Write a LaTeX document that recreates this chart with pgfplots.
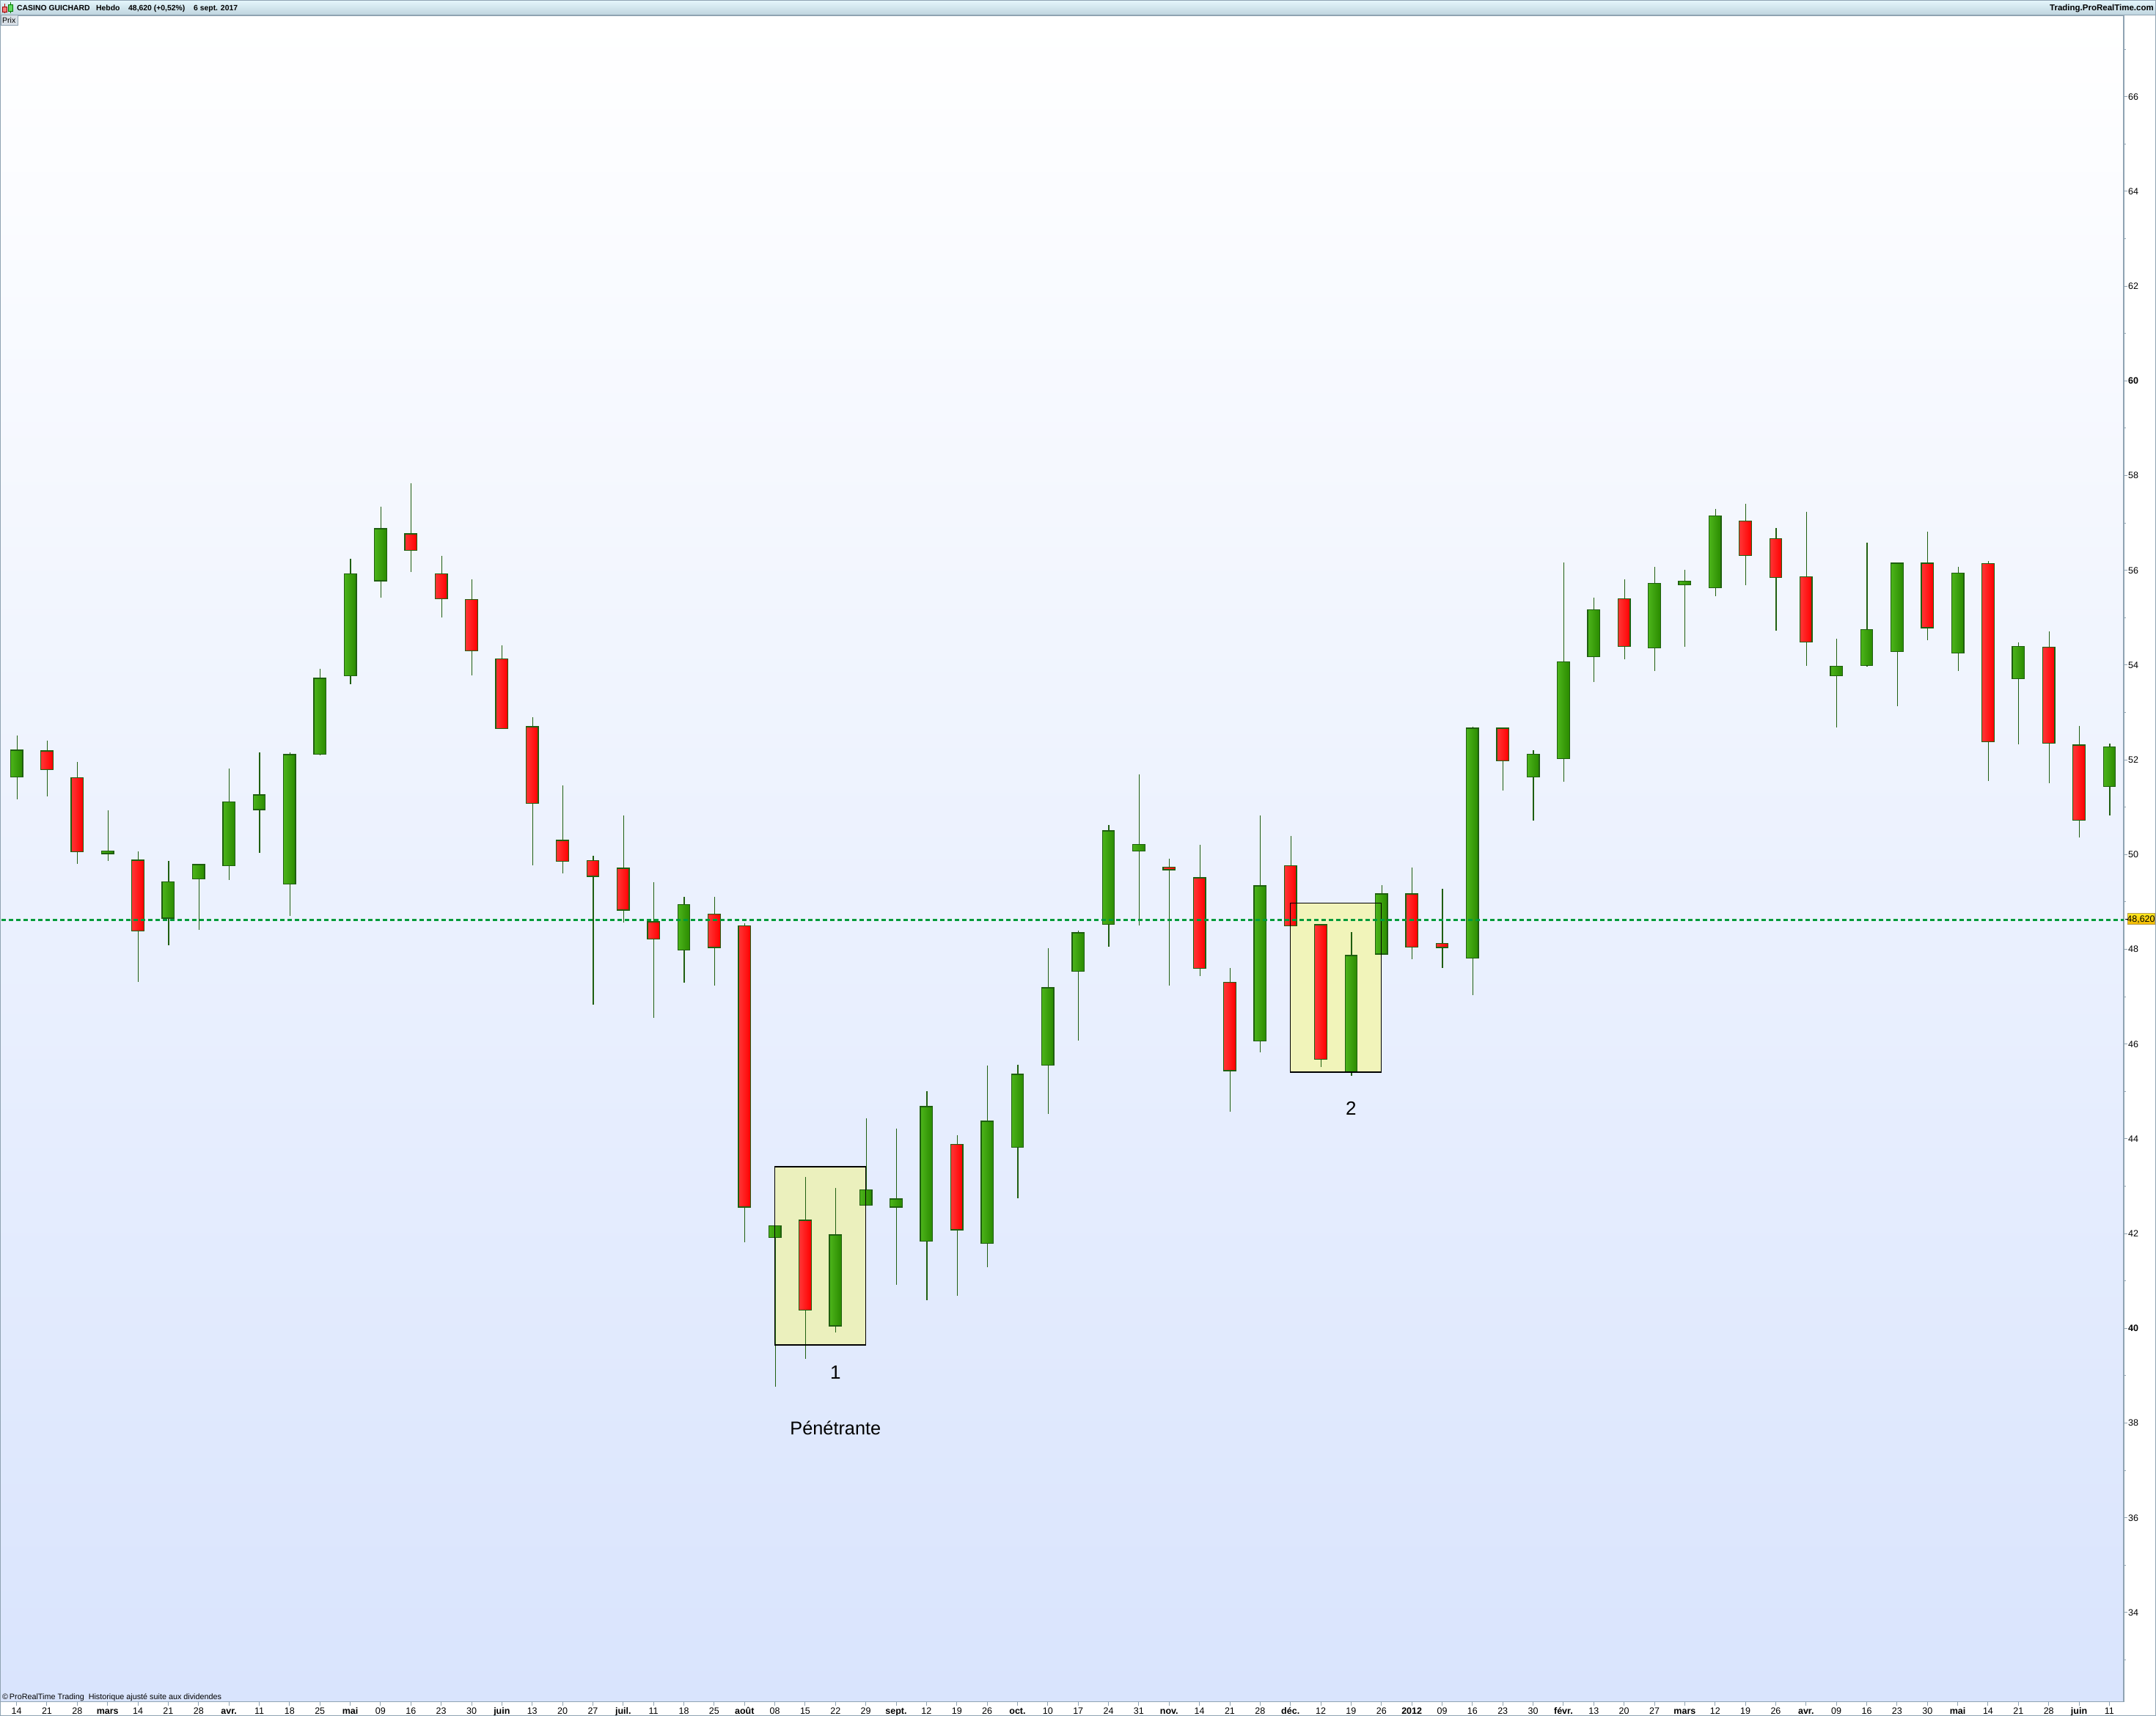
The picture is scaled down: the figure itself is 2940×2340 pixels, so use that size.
\documentclass[border=0pt]{standalone}
\usepackage{fontspec}
\setmainfont{Liberation Sans}
\usepackage{pgfplots}
\pgfplotsset{compat=1.18}
\definecolor{edgeG}{HTML}{1F5F10}
\definecolor{gL}{HTML}{4CB41A}
\definecolor{gR}{HTML}{2A8A00}
\definecolor{rL}{HTML}{FF3636}
\definecolor{rR}{HTML}{FF0000}
\definecolor{frameC}{HTML}{8FA3B2}
\definecolor{dashC}{HTML}{009B3A}
\definecolor{bgB}{HTML}{D9E4FD}
\definecolor{rectA}{HTML}{EBF0BD}
\definecolor{rectB}{HTML}{F1F4BA}
\definecolor{hdT}{HTML}{E6F7FD}
\definecolor{hdB}{HTML}{BFD5DF}
\definecolor{icoR}{HTML}{F47C7C}
\definecolor{icoG}{HTML}{5FDB5F}
\definecolor{prixF}{HTML}{D8DFE6}
\definecolor{tagT}{HTML}{FFE81E}
\definecolor{tagB}{HTML}{F0B400}
\definecolor{tagE}{HTML}{B8A050}
\tikzset{
 bodyg/.style={left color=gL,right color=gR,draw=edgeG,line width=1.3pt},
 bodyr/.style={left color=rL,right color=rR,draw=edgeG,line width=1.3pt},
}
\newcommand{\candle}[6]{%
 \pgfmathsetmacro{\xl}{#1-0.2}\pgfmathsetmacro{\xr}{#1+0.2}\pgfmathsetmacro{\xw}{#1+0.012}%
 \addplot[edgeG,line width=1.2pt,mark=none,forget plot] coordinates {(\xw,#3) (\xw,#6)};
 \addplot[body#2,mark=none,forget plot] coordinates {(\xl,#5) (\xr,#5) (\xr,#4) (\xl,#4)} -- cycle;
}
\begin{document}
\begin{tikzpicture}[x=1pt,y=1pt]
\useasboundingbox (0,0) rectangle (2940,2340);
\begin{axis}[
 at={(2,30)},anchor=south west,
 scale only axis,width=2895pt,height=2299pt,
 xmin=0.473,xmax=70.47,ymin=32.117,ymax=67.706,
 axis background/.style={top color=white,bottom color=bgB},
 axis line style={frameC,line width=1.3pt},
 tick style={frameC,line width=1pt},
 tick align=outside,
 major tick length=5pt,minor tick length=3pt,
 xtick pos=bottom,ytick pos=right,
 xtick={1,...,70},
 xticklabels={14,21,28,\textbf{mars},14,21,28,\textbf{avr.},11,18,25,\textbf{mai},09,16,23,30,\textbf{juin},13,20,27,\textbf{juil.},11,18,25,\textbf{août},08,15,22,29,\textbf{sept.},12,19,26,\textbf{oct.},10,17,24,31,\textbf{nov.},14,21,28,\textbf{déc.},12,19,26,\textbf{2012},09,16,23,30,\textbf{févr.},13,20,27,\textbf{mars},12,19,26,\textbf{avr.},09,16,23,30,\textbf{mai},14,21,28,\textbf{juin},11},
 ytick={34,36,...,66},
 yticklabels={34,36,38,\textbf{40},42,44,46,48,50,52,54,56,58,\textbf{60},62,64,66},
 minor ytick={33,35,...,67},
 xticklabel style={anchor=base,inner sep=0pt,yshift=-12pt,font=\fontsize{12.5}{12.5}\selectfont},
 yticklabel style={anchor=west,inner sep=0pt,xshift=1pt,font=\fontsize{12.5}{12.5}\selectfont},
 clip=true,
]
% rectangle fills
\addplot[fill=rectA,draw=none,mark=none,forget plot] coordinates {(26,39.65) (29,39.65) (29,43.41) (26,43.41)} -- cycle;
\addplot[fill=rectB,draw=none,mark=none,forget plot] coordinates {(43,45.41) (46,45.41) (46,48.98) (43,48.98)} -- cycle;
% index, colour, high, body top, body bottom, low
\candle{1}{g}{52.52}{52.205}{51.64}{51.17}
\candle{2}{r}{52.41}{52.19}{51.79}{51.23}
\candle{3}{r}{51.95}{51.62}{50.06}{49.80}
\candle{4}{g}{50.94}{50.07}{50.02}{49.87}
\candle{5}{r}{50.07}{49.88}{48.39}{47.31}
\candle{6}{g}{49.86}{49.43}{48.66}{48.09}
\candle{7}{g}{49.79}{49.79}{49.49}{48.41}
\candle{8}{g}{51.81}{51.11}{49.77}{49.47}
\candle{9}{g}{52.16}{51.26}{50.95}{50.04}
\candle{10}{g}{52.15}{52.11}{49.38}{48.71}
\candle{11}{g}{53.92}{53.72}{52.12}{52.09}
\candle{12}{g}{56.25}{55.93}{53.78}{53.60}
\candle{13}{g}{57.35}{56.88}{55.78}{55.43}
\candle{14}{r}{57.84}{56.77}{56.42}{55.96}
\candle{15}{r}{56.30}{55.93}{55.40}{55.00}
\candle{16}{r}{55.81}{55.38}{54.30}{53.78}
\candle{17}{r}{54.42}{54.13}{52.66}{52.66}
\candle{18}{r}{52.90}{52.70}{51.08}{49.78}
\candle{19}{r}{51.46}{50.30}{49.86}{49.61}
\candle{20}{r}{49.98}{49.87}{49.54}{46.84}
\candle{21}{r}{50.83}{49.71}{48.83}{48.56}
\candle{22}{r}{49.42}{48.58}{48.22}{46.56}
\candle{23}{g}{49.11}{48.95}{47.99}{47.30}
\candle{24}{r}{49.11}{48.74}{48.04}{47.23}
\candle{25}{r}{48.55}{48.50}{42.56}{41.81}
\candle{26}{g}{42.16}{42.16}{41.92}{38.77}
\candle{27}{r}{43.20}{42.28}{40.39}{39.35}
\candle{28}{g}{42.97}{41.97}{40.05}{39.92}
\candle{29}{g}{44.44}{42.92}{42.60}{42.60}
\candle{30}{g}{44.22}{42.73}{42.56}{40.92}
\candle{31}{g}{45.01}{44.68}{41.84}{40.60}
\candle{32}{r}{44.08}{43.88}{42.08}{40.68}
\candle{33}{g}{45.54}{44.37}{41.79}{41.29}
\candle{34}{g}{45.57}{45.36}{43.82}{42.74}
\candle{35}{g}{48.03}{47.19}{45.56}{44.52}
\candle{36}{g}{48.39}{48.35}{47.54}{46.08}
\candle{37}{g}{50.62}{50.50}{48.53}{48.06}
\candle{38}{g}{51.70}{50.22}{50.08}{48.50}
\candle{39}{r}{49.92}{49.73}{49.68}{47.24}
\candle{40}{r}{50.20}{49.51}{47.60}{47.43}
\candle{41}{r}{47.60}{47.30}{45.44}{44.57}
\candle{42}{g}{50.83}{49.34}{46.07}{45.83}
\candle{43}{r}{50.40}{49.77}{48.50}{48.50}
\candle{44}{r}{48.52}{48.52}{45.68}{45.51}
\candle{45}{g}{48.36}{47.87}{45.41}{45.33}
\candle{46}{g}{49.35}{49.17}{47.90}{47.90}
\candle{47}{r}{49.73}{49.17}{48.05}{47.79}
\candle{48}{r}{49.28}{48.13}{48.04}{47.60}
\candle{49}{g}{52.70}{52.67}{47.82}{47.04}
\candle{50}{r}{52.67}{52.67}{51.98}{51.35}
\candle{51}{g}{52.20}{52.12}{51.64}{50.72}
\candle{52}{g}{56.16}{54.07}{52.03}{51.54}
\candle{53}{g}{55.43}{55.17}{54.18}{53.65}
\candle{54}{r}{55.81}{55.40}{54.39}{54.12}
\candle{55}{g}{56.07}{55.73}{54.36}{53.88}
\candle{56}{g}{56.01}{55.77}{55.69}{54.39}
\candle{57}{g}{57.29}{57.15}{55.63}{55.46}
\candle{58}{r}{57.40}{57.04}{56.31}{55.69}
\candle{59}{r}{56.89}{56.67}{55.85}{54.73}
\candle{60}{r}{57.24}{55.86}{54.49}{53.99}
\candle{61}{g}{54.56}{53.98}{53.78}{52.69}
\candle{62}{g}{56.58}{54.75}{53.99}{53.97}
\candle{63}{g}{56.15}{56.15}{54.29}{53.13}
\candle{64}{r}{56.81}{56.15}{54.79}{54.53}
\candle{65}{g}{56.08}{55.94}{54.25}{53.88}
\candle{66}{r}{56.19}{56.14}{52.38}{51.56}
\candle{67}{g}{54.48}{54.39}{53.71}{52.33}
\candle{68}{r}{54.71}{54.38}{52.35}{51.50}
\candle{69}{r}{52.72}{52.31}{50.73}{50.36}
\candle{70}{g}{52.35}{52.27}{51.44}{50.83}
% rectangle borders
\addplot[draw=black,line width=1.3pt,mark=none,forget plot] coordinates {(26,39.65) (29,39.65) (29,43.41) (26,43.41)} -- cycle;
\addplot[draw=black,line width=1.3pt,mark=none,forget plot] coordinates {(43,45.41) (46,45.41) (46,48.98) (43,48.98)} -- cycle;
% last price
\addplot[dashC,line width=2.4pt,dash pattern=on 6pt off 4pt,mark=none,forget plot] coordinates {(0.5,48.62) (70.47,48.62)};
\node[font=\fontsize{26}{26}\selectfont,inner sep=0pt] at (axis cs:28,39.07) {1};
\node[font=\fontsize{26}{26}\selectfont,inner sep=0pt] at (axis cs:45,44.64) {2};
\node[font=\fontsize{25.3}{25.3}\selectfont,inner sep=0pt] at (axis cs:28,37.90) {Pénétrante};
\end{axis}
% header
\shade[top color=hdT,bottom color=hdB] (0,2340) rectangle (2940,2320);
\draw[frameC,line width=1.2pt] (0,2339.4) -- (2940,2339.4);
\draw[frameC,line width=1.2pt] (0,2319.5) -- (2940,2319.5);
% icon
\draw[red!70!black,line width=1pt] (6.3,2335) -- (6.3,2322);
\filldraw[fill=icoR,draw=red!60!black,line width=.6pt] (3.5,2331) rectangle (9.5,2324);
\draw[green!50!black,line width=1pt] (14.3,2337) -- (14.3,2322);
\filldraw[fill=icoG,draw=green!45!black,line width=.6pt] (11.5,2333.5) rectangle (17.5,2324.5);
\def\hfont{\fontsize{10.4}{10.4}\selectfont\bfseries}
\node[anchor=base west,inner sep=0pt,font=\hfont] at (23,2325.8) {CASINO GUICHARD};
\node[anchor=base west,inner sep=0pt,font=\hfont] at (131,2325.8) {Hebdo};
\node[anchor=base west,inner sep=0pt,font=\hfont] at (175,2325.8) {48,620 (+0,52\%)};
\node[anchor=base west,inner sep=0pt,font=\hfont] at (264,2325.8) {6 sept. 2017};
\node[anchor=base east,inner sep=0pt,font=\fontsize{11.5}{11.5}\selectfont\bfseries] at (2937,2325.8) {Trading.ProRealTime.com};
% Prix tag
\filldraw[fill=prixF,draw=frameC,line width=1pt] (1,2319) rectangle (24,2305.5);
\node[anchor=base west,inner sep=0pt,font=\fontsize{10.5}{10.5}\selectfont] at (3,2308.5) {Prix};
% footer
\node[anchor=base west,inner sep=0pt,font=\fontsize{10.8}{10.8}\selectfont] at (3,22.5) {©\,ProRealTime Trading\ \ Historique ajusté suite aux dividendes};
% price tag
\draw[black,line width=1pt] (2897.5,1086) -- (2902,1086);
\shade[top color=tagT,bottom color=tagB] (2901,1094) rectangle (2938,1079);
\draw[tagE,line width=1pt] (2901,1094) rectangle (2938,1079);
\node[inner sep=0pt,font=\fontsize{12.5}{12.5}\selectfont] at (2919.5,1086) {48,620};
% outer frame
\draw[frameC,line width=1.2pt] (0.6,0.6) rectangle (2939.4,2339.4);
\end{tikzpicture}
\end{document}
